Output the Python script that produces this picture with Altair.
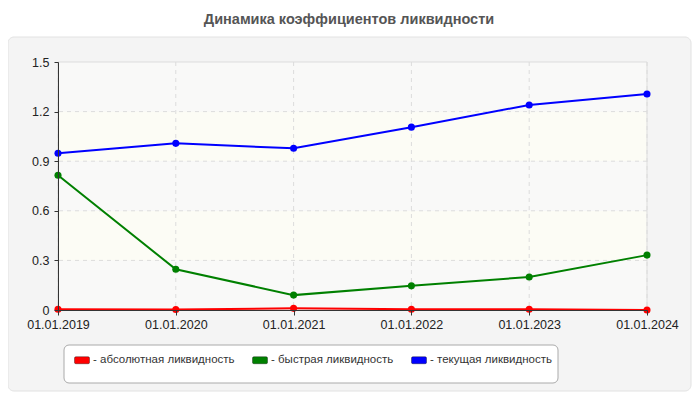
import pandas as pd
import altair as alt

# chart values
dates = ["01.01.2019", "01.01.2020", "01.01.2021", "01.01.2022", "01.01.2023", "01.01.2024"]
series_names = ["абсолютная ликвидность", "быстрая ликвидность", "текущая ликвидность"]
series_colors = ["#ff0000", "#008000", "#0000ff"]
absolute_vals = [0.005, 0.003, 0.01, 0.004, 0.005, 0.0]
quick_vals = [0.815, 0.246, 0.09, 0.146, 0.2, 0.332]
current_vals = [0.948, 1.008, 0.978, 1.106, 1.24, 1.306]
y_ticks = [0, 0.3, 0.6, 0.9, 1.2, 1.5]
band_lo = [0, 0.3, 0.6, 0.9, 1.2]
band_hi = [0.3, 0.6, 0.9, 1.2, 1.5]
band_kind = ["hatch", "plain", "hatch", "plain", "hatch"]
title_text = "Динамика коэффициентов ликвидности"

W, H = 589, 248
FONT = "Liberation Sans, Arial, sans-serif"

rows = []
for name, vals in zip(series_names, [absolute_vals, quick_vals, current_vals]):
    for d, v in zip(dates, vals):
        rows.append({"date": d, "series": name, "value": v})
df = pd.DataFrame(rows)

bands = pd.DataFrame({"lo": band_lo, "hi": band_hi, "kind": band_kind})
grid_y = pd.DataFrame({"v": y_ticks[1:-1]})
grid_x = pd.DataFrame({"date": dates})
one = pd.DataFrame({"k": [0]})

x_scale = alt.Scale(type="point", domain=dates, padding=0)
y_scale = alt.Scale(domain=[0, 1.5], nice=False)
color_scale = alt.Scale(domain=series_names, range=series_colors)

# decorative panel behind the plot, legend box and title
panel = alt.Chart(one).mark_rect(
    fill="#f4f4f4", stroke="#e2e2e2", cornerRadius=6
).encode(x=alt.value(-50), x2=alt.value(W + 44), y=alt.value(-25), y2=alt.value(H + 81))

band_layer = alt.Chart(bands).mark_rect().encode(
    y=alt.Y("lo:Q", scale=y_scale),
    y2="hi:Q",
    fill=alt.Fill("kind:N", scale=alt.Scale(domain=["hatch", "plain"], range=["#f9f9f8", "#fcfcf5"]), legend=None),
)

border = alt.Chart(one).mark_rect(fill=None, stroke="#dddddd").encode(
    x=alt.value(0), x2=alt.value(W), y=alt.value(0), y2=alt.value(H)
)

hgrid = alt.Chart(grid_y).mark_rule(color="#dcdcdc", strokeDash=[4, 4]).encode(
    y=alt.Y("v:Q", scale=y_scale)
)
vgrid = alt.Chart(grid_x).mark_rule(color="#dcdcdc", strokeDash=[4, 4]).encode(
    x=alt.X("date:N", scale=x_scale, sort=dates)
)

legend_box = alt.Chart(one).mark_rect(
    fill="white", stroke="#aaaaaa", cornerRadius=5
).encode(x=alt.value(6), x2=alt.value(500), y=alt.value(283), y2=alt.value(321))

title = alt.Chart(one).mark_text(
    text=title_text, font=FONT, fontSize=14.5, fontWeight="bold", color="#555555",
    align="center", baseline="alphabetic"
).encode(x=alt.value(291), y=alt.value(-38))

x_axis = alt.Axis(
    title=None, labelAngle=0, labelAlign="center", labelFlush=False, grid=False, zindex=1,
    domainColor="#333333", tickColor="#333333", tickSize=5, labelPadding=9,
    labelFontSize=12.5, labelFont=FONT, labelColor="#222222"
)
y_axis = alt.Axis(
    title=None, values=y_ticks, format=".1~f", grid=False, zindex=1, domainColor="#333333",
    tickColor="#333333", tickSize=4, labelPadding=5, labelFontSize=12.5, labelFont=FONT, labelColor="#222222"
)

lines = alt.Chart(df).mark_line(strokeWidth=2).encode(
    x=alt.X("date:N", scale=x_scale, axis=x_axis, sort=dates),
    y=alt.Y("value:Q", scale=y_scale, axis=y_axis),
    color=alt.Color("series:N", scale=color_scale, legend=None),
)

symbol_path = ("M-0.8,-0.47H0.8Q1,-0.47 1,-0.3V0.3Q1,0.47 0.8,0.47H-0.8"
               "Q-1,0.47 -1,0.3V-0.3Q-1,-0.47 -0.8,-0.47Z")

points = alt.Chart(df).mark_point(filled=True, size=50, opacity=1).encode(
    x=alt.X("date:N", scale=x_scale, sort=dates),
    y=alt.Y("value:Q", scale=y_scale),
    color=alt.Color(
        "series:N", scale=color_scale,
        legend=alt.Legend(
            orient="none", legendX=16, legendY=290, direction="horizontal", title=None,
            symbolType=symbol_path, symbolSize=225, symbolOpacity=1,
            symbolStrokeColor="rgba(0,0,0,0.35)", symbolStrokeWidth=1,
            labelExpr="'- ' + datum.label", labelFontSize=11.5, labelFont=FONT, labelColor="#333333",
            labelOffset=3, columnPadding=15, padding=0, labelLimit=300,
        ),
    ),
)

chart = alt.layer(
    panel, band_layer, border, hgrid, vgrid, legend_box, title, lines, points
).resolve_scale(
    fill="independent"
).resolve_legend(
    color="independent"
).properties(
    width=W, height=H,
    autosize=alt.AutoSizeParams(type="none"),
    padding={"left": 50, "top": 54, "right": 45, "bottom": 82},
    background="white",
).configure_view(stroke=None)

chart.save("out.html", embed_options={"renderer": "svg", "actions": False})
